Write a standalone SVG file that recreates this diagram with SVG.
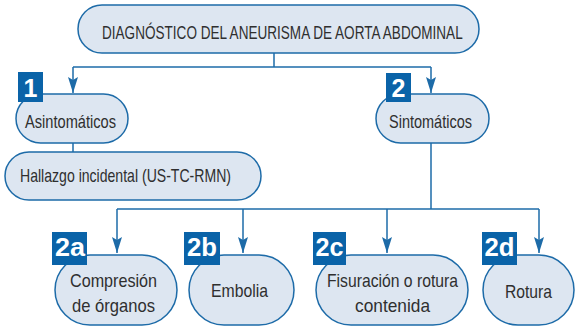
<svg xmlns="http://www.w3.org/2000/svg" width="576" height="328" viewBox="0 0 576 328">
<defs>
<style>
.node{fill:#dde6f1;stroke:#1d6ba8;stroke-width:1.5}
.lbl{font-family:"Liberation Sans",Arial,sans-serif;font-size:19px;fill:#2f2f2f}
.badge{fill:#0a63a8}
.btxt{font-family:"Liberation Sans",Arial,sans-serif;font-size:25px;font-weight:bold;fill:#ffffff}
.conn{fill:none;stroke:#1d6ba8;stroke-width:1.5}
</style>
<marker id="arr" viewBox="0 0 16 10" refX="16" refY="5" markerWidth="16" markerHeight="10" markerUnits="userSpaceOnUse" orient="auto">
<path d="M0,0 L3,5 L0,10 L16,5 Z" fill="#1d6ba8"/>
</marker>
</defs>
<rect width="576" height="328" fill="#ffffff"/>
<g id="connectors">
<path class="conn" d="M274,53 V67"/>
<path class="conn" d="M73,67 H431"/>
<path class="conn" d="M73,67 V93" marker-end="url(#arr)"/>
<path class="conn" d="M431,67 V93" marker-end="url(#arr)"/>
<path class="conn" d="M73,143 V152"/>
<path class="conn" d="M431,143 V209"/>
<path class="conn" d="M117,209 H539"/>
<path class="conn" d="M117,209 V253" marker-end="url(#arr)"/>
<path class="conn" d="M243,209 V253" marker-end="url(#arr)"/>
<path class="conn" d="M387,209 V253" marker-end="url(#arr)"/>
<path class="conn" d="M539,209 V253" marker-end="url(#arr)"/>
</g>
<g id="root">
<rect class="node" x="78" y="5" width="401" height="48" rx="24"/>
<text class="lbl" transform="translate(102,39) scale(0.714,1)" x="0" y="0">DIAGNÓSTICO DEL ANEURISMA DE AORTA ABDOMINAL</text>
</g>
<g id="asintomaticos">
<rect class="node" x="16" y="94" width="112" height="49" rx="24.5"/>
<text class="lbl" x="25" y="128" textLength="91" lengthAdjust="spacingAndGlyphs">Asintomáticos</text>
<rect class="badge" x="18" y="72" width="25" height="30"/>
<text class="btxt" x="30.5" y="97" text-anchor="middle">1</text>
</g>
<g id="sintomaticos">
<rect class="node" x="376" y="94" width="113" height="49" rx="24.5"/>
<text class="lbl" x="389" y="128" textLength="83" lengthAdjust="spacingAndGlyphs">Sintomáticos</text>
<rect class="badge" x="386" y="73" width="25" height="29"/>
<text class="btxt" x="398.5" y="97" text-anchor="middle">2</text>
</g>
<g id="hallazgo">
<rect class="node" x="5" y="152" width="256" height="48" rx="24"/>
<text class="lbl" x="20" y="182" textLength="211" lengthAdjust="spacingAndGlyphs">Hallazgo incidental (US-TC-RMN)</text>
</g>
<g id="compresion">
<rect class="node" x="55" y="255" width="122" height="70" rx="35"/>
<text class="lbl" x="70" y="287" textLength="87" lengthAdjust="spacingAndGlyphs">Compresión</text>
<text class="lbl" x="72" y="312" textLength="83" lengthAdjust="spacingAndGlyphs">de órganos</text>
<rect class="badge" x="52" y="232" width="35" height="33"/>
<text class="btxt" x="70" y="256" text-anchor="middle" textLength="30" lengthAdjust="spacingAndGlyphs">2a</text>
</g>
<g id="embolia">
<rect class="node" x="189" y="255" width="105" height="70" rx="35"/>
<text class="lbl" x="211" y="297" textLength="57" lengthAdjust="spacingAndGlyphs">Embolia</text>
<rect class="badge" x="184" y="232" width="36" height="33"/>
<text class="btxt" x="202" y="256" text-anchor="middle" textLength="30" lengthAdjust="spacingAndGlyphs">2b</text>
</g>
<g id="fisuracion">
<rect class="node" x="316" y="255" width="152" height="70" rx="35"/>
<text class="lbl" x="327" y="287" textLength="131" lengthAdjust="spacingAndGlyphs">Fisuración o rotura</text>
<text class="lbl" x="355" y="312" textLength="75" lengthAdjust="spacingAndGlyphs">contenida</text>
<rect class="badge" x="313" y="232" width="33" height="33"/>
<text class="btxt" x="329.5" y="256" text-anchor="middle" textLength="28" lengthAdjust="spacingAndGlyphs">2c</text>
</g>
<g id="rotura">
<rect class="node" x="483" y="255" width="91" height="70" rx="35"/>
<text class="lbl" x="505" y="298" textLength="47" lengthAdjust="spacingAndGlyphs">Rotura</text>
<rect class="badge" x="482" y="232" width="35" height="33"/>
<text class="btxt" x="499.5" y="256" text-anchor="middle" textLength="30" lengthAdjust="spacingAndGlyphs">2d</text>
</g>
</svg>
